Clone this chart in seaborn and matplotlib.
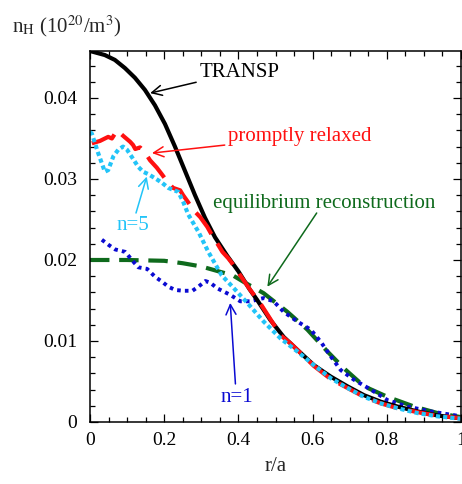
import matplotlib
matplotlib.use("Agg")
import matplotlib.pyplot as plt
import seaborn as sns
from matplotlib.ticker import MultipleLocator, FuncFormatter

# ---- data ----
transp_x = [0.0, 0.04, 0.067, 0.094, 0.121, 0.148, 0.175, 0.202, 0.229, 0.256, 0.283,
            0.31, 0.337, 0.37, 0.40, 0.43, 0.45, 0.486, 0.522, 0.559, 0.604, 0.649,
            0.694, 0.739, 0.784, 0.829, 0.883, 0.937, 1.0]
transp_y = [0.0458, 0.0453, 0.0447, 0.0437, 0.0425, 0.0410, 0.0391, 0.0368, 0.0340,
            0.0310, 0.0280, 0.0252, 0.0228, 0.0205, 0.0186, 0.0164, 0.0151, 0.0126,
            0.0105, 0.0089, 0.0070, 0.0056, 0.0044, 0.0033, 0.0025, 0.0019, 0.0013,
            0.0008, 0.00045]

relax_x = [0.005, 0.027, 0.049, 0.059, 0.073, 0.09, 0.108, 0.116, 0.122, 0.135, 0.149,
           0.162, 0.18, 0.195, 0.211, 0.224, 0.243, 0.251, 0.265, 0.278, 0.297, 0.316,
           0.332, 0.345, 0.357, 0.373, 0.383, 0.405, 0.432, 0.459, 0.482, 0.514, 0.541,
           0.559, 0.604, 0.649, 0.694, 0.739, 0.784, 0.829, 0.919, 1.0]
relax_y = [0.0344, 0.0347, 0.0352, 0.0350, 0.0360, 0.0353, 0.0346, 0.0342, 0.0337, 0.0339,
           0.0332, 0.0323, 0.0314, 0.0305, 0.0295, 0.0289, 0.0286, 0.0280, 0.0271, 0.0262,
           0.0253, 0.0241, 0.0228, 0.0219, 0.0210, 0.0202, 0.0196, 0.0181, 0.0163, 0.01465,
           0.0130, 0.0107, 0.0097, 0.0089, 0.0069, 0.0053, 0.0042, 0.0031, 0.0023, 0.0017,
           0.0009, 0.00045]

n5_x = [0.0, 0.005, 0.022, 0.04, 0.049, 0.063, 0.076, 0.089, 0.1, 0.113, 0.13, 0.143,
        0.157, 0.175, 0.195, 0.211, 0.238, 0.251, 0.265, 0.292, 0.319, 0.355, 0.382,
        0.424, 0.468, 0.514, 0.559, 0.604, 0.649, 0.694, 0.739, 0.784, 0.829, 0.883,
        0.937, 1.0]
n5_y = [0.0358, 0.0356, 0.0332, 0.0309, 0.0311, 0.0328, 0.0336, 0.0340, 0.0336, 0.0327,
        0.0315, 0.0309, 0.0306, 0.0301, 0.0295, 0.0289, 0.0284, 0.0272, 0.0256, 0.0235,
        0.0210, 0.0181, 0.0168, 0.0147, 0.0124, 0.0103, 0.0087, 0.0070, 0.0054, 0.0042,
        0.0031, 0.0023, 0.0017, 0.0011, 0.0007, 0.0004]

n1_x = [0.032, 0.049, 0.068, 0.095, 0.113, 0.13, 0.154, 0.176, 0.195, 0.211, 0.23, 0.251,
        0.276, 0.292, 0.311, 0.324, 0.343, 0.378, 0.405, 0.432, 0.468, 0.495, 0.522,
        0.559, 0.595, 0.622, 0.649, 0.676, 0.712, 0.757, 0.802, 0.856, 0.919, 1.0]
n1_y = [0.0225, 0.0219, 0.0213, 0.0210, 0.0200, 0.0191, 0.0189, 0.0179, 0.0173, 0.0167,
        0.0163, 0.0162, 0.0162, 0.0167, 0.0174, 0.0172, 0.0165, 0.0157, 0.0149, 0.0149,
        0.0153, 0.0149, 0.0136, 0.0124, 0.0114, 0.0099, 0.0081, 0.0064, 0.0052, 0.0040,
        0.0027, 0.0019, 0.0013, 0.0007]

eq_x = [0.0, 0.1, 0.2, 0.25, 0.3, 0.385, 0.414, 0.468, 0.532, 0.586, 0.64, 0.685, 0.739,
        0.802, 0.874, 0.937, 1.0]
eq_y = [0.0200, 0.0200, 0.0199, 0.0196, 0.0192, 0.0181, 0.0173, 0.0159, 0.0136, 0.0114,
        0.0087, 0.0066, 0.0044, 0.0031, 0.0019, 0.0011, 0.0006]

x_ticks = [0, 0.2, 0.4, 0.6, 0.8, 1.0]
y_ticks = [0, 0.01, 0.02, 0.03, 0.04]

# ---- style ----
sns.set_style("ticks")
plt.rcParams['font.family'] = ['Liberation Serif', 'DejaVu Serif']
plt.rcParams['mathtext.fontset'] = 'stix'
plt.rcParams['lines.scale_dashes'] = False

C_RED = '#FF1010'
C_CYAN = '#22C4F8'
C_BLUE = '#0A0AD2'
C_GREEN = '#0E6A1C'

fig = plt.figure(figsize=(4.62, 4.84), dpi=100)
ax = fig.add_axes([90/462, 1-422/484, 371/462, (422-51)/484])

def draw(x, y, color, lw, dashes=None):
    sns.lineplot(x=x, y=y, color=color, lw=lw, ax=ax, sort=False, estimator=None)
    ln = ax.lines[-1]
    if dashes is not None:
        ln.set_dashes(dashes)
    ln.set_dash_capstyle('butt')
    ln.set_solid_capstyle('butt')
    ln.set_solid_joinstyle('round')
    return ln

draw(eq_x, eq_y, C_GREEN, 3.0, dashes=(14, 7))
draw(n1_x, n1_y, C_BLUE, 2.8, dashes=(2.6, 3.0))
draw(transp_x, transp_y, 'black', 3.0)
draw(relax_x, relax_y, C_RED, 3.0, dashes=(19, 8))
draw(n5_x, n5_y, C_CYAN, 3.0, dashes=(3.0, 2.2))

ax.set_xlim(0, 1)
ax.set_ylim(0, 0.0458)
ax.set_xticks(x_ticks)
ax.set_yticks(y_ticks)
ax.xaxis.set_minor_locator(MultipleLocator(0.05))
ax.yaxis.set_minor_locator(MultipleLocator(0.002))
fmt = FuncFormatter(lambda v, p: '%g' % round(v, 4))
ax.xaxis.set_major_formatter(fmt)
ax.yaxis.set_major_formatter(fmt)
ax.tick_params(which='both', direction='in', top=True, right=True, width=0.9,
               labelsize=14, colors='black')
ax.tick_params(which='major', length=6, pad=7)
ax.tick_params(which='minor', length=3.5)
ax.tick_params(axis='y', which='major', pad=9)
for s in ax.spines.values():
    s.set_linewidth(1.1)
    s.set_color('black')

ax.set_xlabel('r/a', fontsize=15, labelpad=6)
ax.set_ylabel('')
fig.text(12/462, 1-26/484, r'n$_{\mathrm{H}}$ (10$^{20}$/m$^{3}$)', fontsize=15,
         ha='left', va='center')

arrow_kw = dict(arrowstyle='->', lw=1.1, mutation_scale=18, shrinkA=0, shrinkB=0)
ax.annotate('TRANSP', xy=(0.162, 0.0406), xytext=(0.295, 0.0432), fontsize=15,
            color='black', ha='left', va='center',
            arrowprops=dict(color='black', **arrow_kw))
ax.annotate('promptly relaxed', xy=(0.167, 0.0332), xytext=(0.372, 0.0352), fontsize=15,
            color=C_RED, ha='left', va='center',
            arrowprops=dict(color=C_RED, **arrow_kw))
ax.text(0.332, 0.0270, 'equilibrium reconstruction', fontsize=15, color=C_GREEN,
        ha='left', va='center')
ax.annotate('', xy=(0.478, 0.0167), xytext=(0.611, 0.0258),
            arrowprops=dict(color=C_GREEN, **arrow_kw))
ax.text(0.116, 0.0242, 'n=5', fontsize=15, color=C_CYAN, ha='center', va='center')
ax.annotate('', xy=(0.153, 0.0303), xytext=(0.124, 0.0258),
            arrowprops=dict(color=C_CYAN, **arrow_kw))
ax.text(0.395, 0.0030, 'n=1', fontsize=15, color=C_BLUE, ha='center', va='center')
ax.annotate('', xy=(0.378, 0.0147), xytext=(0.392, 0.0047),
            arrowprops=dict(color=C_BLUE, **arrow_kw))

fig.savefig('out.png', dpi=100)
